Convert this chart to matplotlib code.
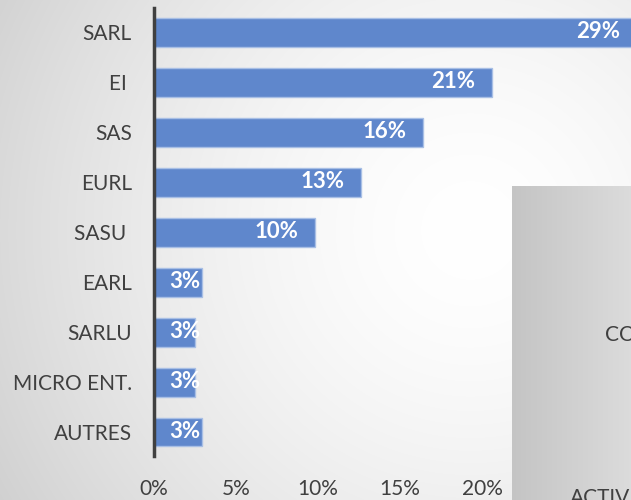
import numpy as np
import matplotlib.pyplot as plt
from matplotlib.ticker import FuncFormatter

plt.rcParams['font.family'] = ['Lato', 'DejaVu Sans']

# Données
categories = ['SARL', 'EI ', 'SAS', 'EURL', 'SASU ', 'EARL', 'SARLU', 'MICRO ENT.', 'AUTRES']
values = [29.4, 20.6, 16.4, 12.6, 9.8, 2.9, 2.5, 2.5, 2.9]
labels = ['29%', '21%', '16%', '13%', '10%', '3%', '3%', '3%', '3%']
xticks = [0, 5, 10, 15, 20]

W, H = 631, 500
fig = plt.figure(figsize=(W / 100, H / 100), dpi=100)

# fond en dégradé radial
bg = fig.add_axes([0, 0, 1, 1], zorder=0)
yy, xx = np.mgrid[0:H, 0:W]
r = np.sqrt((xx - 470) ** 2 + (yy - 230) ** 2) / 480
g = 1 - 0.15 * np.clip(r, 0, 1.2) ** 1.6
bg.imshow(np.dstack([g, g, g]), aspect='auto', extent=[0, 1, 0, 1])
bg.axis('off')

# graphique principal
ax = fig.add_axes([154 / W, 44 / H, (W - 154) / W, 448 / H], zorder=1)
ax.patch.set_alpha(0)
y = np.arange(len(categories))
ax.barh(y, values, height=0.58, color='#5f87cc', edgecolor='#a8bfe5', linewidth=1)
ax.set_xlim(0, (W - 154) / 16.4)
ax.set_ylim(8.48, -0.48)
ax.set_yticks(y)
ax.set_yticklabels(categories)
ax.set_xticks(xticks)
ax.xaxis.set_major_formatter(FuncFormatter(lambda v, p: f'{v:.0f}%'))
ax.tick_params(axis='y', length=0, pad=16, labelsize=15, labelcolor='#404040')
ax.tick_params(axis='x', length=0, pad=16.5, labelsize=15, labelcolor='#404040')
for s in ['top', 'right', 'bottom']:
    ax.spines[s].set_visible(False)
ax.spines['left'].set_color('#404040')
ax.spines['left'].set_linewidth(2.5)

for yi, v, lab in zip(y, values, labels):
    if v > 5:
        ax.text(v - 1.0, yi, lab, ha='right', va='center', color='white',
                fontsize=16, fontweight='bold')
    else:
        ax.text(0.95, yi, lab, ha='left', va='center', color='white',
                fontsize=16, fontweight='bold', clip_on=False)

# rectangle gris à droite (autre forme de la diapo)
box = fig.add_axes([512 / W, 0, (W - 512) / W, 314 / H], zorder=2)
gx = np.linspace(0.77, 0.86, 120)
grad = np.tile(gx, (50, 1))
box.imshow(np.dstack([grad, grad, grad]), aspect='auto', extent=[0, 1, 0, 1])
box.set_xlim(0, 1)
box.set_ylim(0, 1)
box.axis('off')
box.text(93 / 119, 165 / 314, 'CONSEIL', ha='left', va='center', fontsize=15,
         color='#404040', clip_on=True)
box.text(58 / 119, 2 / 314, 'ACTIVITÉS', ha='left', va='center', fontsize=15,
         color='#404040', clip_on=True)

fig.savefig('out.png', dpi=100)
